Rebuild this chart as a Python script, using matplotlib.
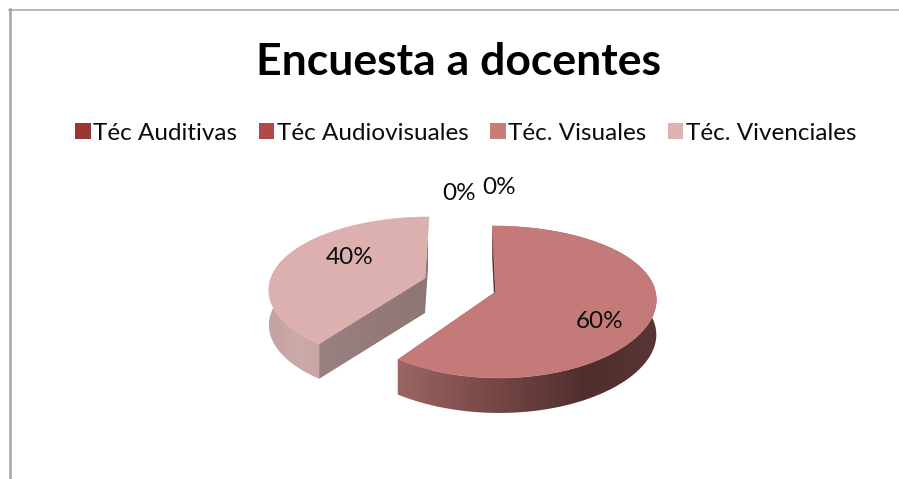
import numpy as np
import matplotlib
matplotlib.use("Agg")
import matplotlib.pyplot as plt
from matplotlib.patches import Polygon, Patch
from matplotlib.colors import LinearSegmentedColormap

plt.rcParams['font.family'] = ['Lato', 'DejaVu Sans']

title = "Encuesta a docentes"
categories = ["Téc Auditivas", "Téc Audiovisuales", "Téc. Visuales", "Téc. Vivenciales"]
values = [0, 0, 60, 40]
percent_labels = ["0%", "0%", "60%", "40%"]
legend_colors = ["#953735", "#B0494A", "#C77D7B", "#DDB3B2"]
top_colors = ["#953735", "#B0494A", "#C47A78", "#DBB0AF"]

# screen geometry of each exploded slice (pixels), drawn with a simple perspective
geom = {
    2: dict(ax=495.5, ay=292, a=160, b=74.7, kx=0.08, ky=0.131, sh=-3.4, depth=35,
            wall=[(398, "#9C6664"), (500, "#744644"), (585, "#4F2E2E"), (657, "#5A3535")],
            inner=[(398, "#8A5654"), (495, "#4F2E2E")]),
    3: dict(ax=425, ay=278, a=154, b=70.8, kx=0.136, ky=0.16, sh=4.6, depth=35,
            wall=[(269, "#C4A2A2"), (295, "#CDA9A9"), (320, "#C9A6A6")],
            inner=[(318, "#9B8080"), (425, "#8E7675")]),
}
label_xy = [(459, 193), (499, 187), (600, 322), (350, 258)]

fig = plt.figure(figsize=(8.99, 4.79), dpi=100, facecolor="white")
ax = fig.add_axes([0, 0, 1, 1])
ax.axis("off")


def rim(g, theta):
    u, v = np.sin(theta), np.cos(theta)
    x = g["ax"] + (g["a"] * u + g["sh"] * v) / (1 + g["kx"] * v)
    y = g["ay"] - g["b"] * v / (1 + g["ky"] * v)
    return np.column_stack([x, y])


def gradient_patch(pts, stops, z):
    poly = Polygon(pts, closed=True, facecolor="none", edgecolor="none", transform=ax.transData)
    ax.add_patch(poly)
    x0, x1 = stops[0][0], stops[-1][0]
    cmap = LinearSegmentedColormap.from_list(
        "g", [((s[0] - x0) / (x1 - x0), s[1]) for s in stops])
    grad = np.linspace(0, 1, 256).reshape(1, -1)
    im = ax.imshow(grad, cmap=cmap, extent=(x0 - 3, x1 + 3, 479, 0), aspect="auto", zorder=z,
                   interpolation="bilinear")
    im.set_clip_path(poly)


cum = 0.0
total = sum(values)
for i, val in enumerate(values):
    start = 2 * np.pi * cum / total
    cum += val
    end = 2 * np.pi * cum / total
    if val == 0:
        continue
    g = geom[i]
    th = np.linspace(start, end, 160)
    r = rim(g, th)
    apex = np.array([[g["ax"], g["ay"]]])
    down = np.array([0, g["depth"]])
    z = 2 + i * 3
    # cut walls first, the outer wall overlaps them at the corners
    for edge in (r[0], r[-1]):
        q = np.vstack([apex, edge[None, :], edge[None, :] + down, apex + down])
        gradient_patch(q, g["inner"], z)
    gradient_patch(np.vstack([r, (r + down)[::-1]]), g["wall"], z + 1)
    # top face
    ax.add_patch(Polygon(np.vstack([apex, r]), closed=True, facecolor=top_colors[i],
                         edgecolor=top_colors[i], linewidth=0.4, zorder=z + 2))

for s, (x, y) in zip(percent_labels, label_xy):
    ax.text(x, y, s, ha="center", va="center", fontsize=17.5, color="#0c0c0c", zorder=20)

ax.text(459, 62, title, ha="center", va="center", fontsize=32, fontweight="bold",
        color="black", zorder=20)

handles = [Patch(facecolor=c, edgecolor="none") for c in legend_colors]
ax.legend(handles, categories, ncol=4, loc="center", bbox_to_anchor=(466 / 899, 1 - 133 / 479),
          frameon=False, fontsize=17.5, handlelength=0.62, handleheight=0.62, handletextpad=0.11,
          columnspacing=0.9, labelcolor="#0c0c0c")

ax.plot([9.5, 9.5], [479, 9], color="#a3a3a3", lw=1.8, zorder=25)
ax.plot([9, 899], [9.7, 9.7], color="#a3a3a3", lw=1.1, zorder=25)

ax.set_xlim(0, 899)
ax.set_ylim(479, 0)
ax.set_aspect("auto")
fig.savefig("out.png", dpi=100, facecolor="white")
